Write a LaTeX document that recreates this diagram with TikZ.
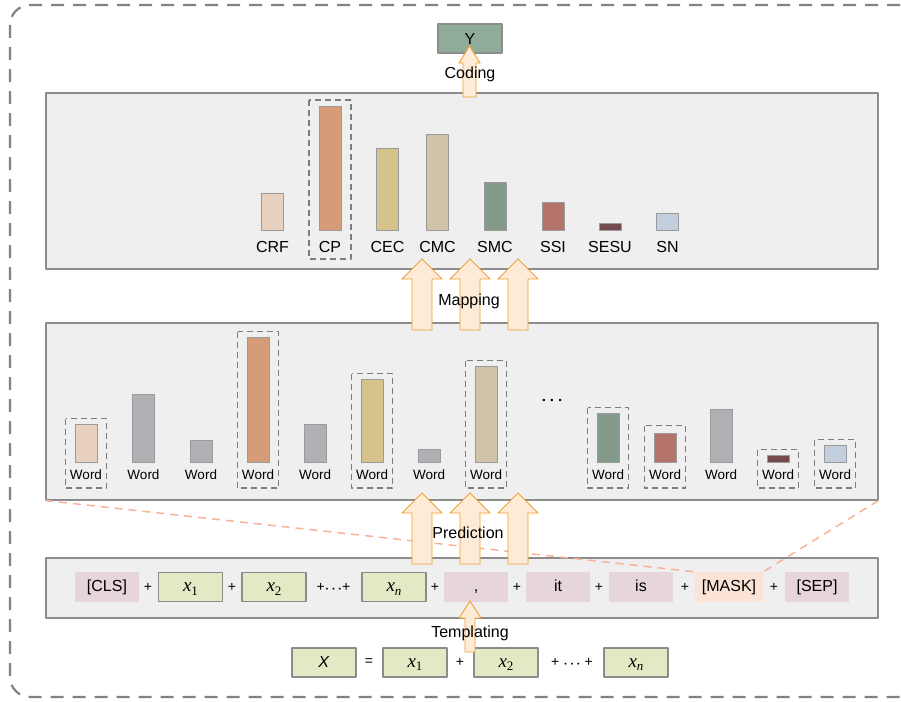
\documentclass[tikz,border=0pt]{standalone}
\usepackage{fontspec}
\setmainfont{Liberation Sans}
\newfontfamily\tms{Liberation Serif}
\usetikzlibrary{arrows.meta}
\definecolor{panelfill}{HTML}{EFEFEF}
\definecolor{panelline}{HTML}{8C8C8C}
\definecolor{outerline}{HTML}{828282}
\definecolor{pickline}{HTML}{7D7D7D}
\definecolor{barline}{HTML}{9A9A9A}
\definecolor{arrfill}{HTML}{FDEBD7}
\definecolor{arrline}{HTML}{F0A035}
\definecolor{linkline}{HTML}{F5B398}
\definecolor{ycol}{HTML}{8FAC98}
\definecolor{tokgreen}{HTML}{E2E9C5}
\definecolor{tokpink}{HTML}{E6D5D9}
\definecolor{tokmask}{HTML}{FBE3D5}
\definecolor{crf}{HTML}{E9D1BF}
\definecolor{cp}{HTML}{D69B79}
\definecolor{cec}{HTML}{D5C38B}
\definecolor{cmc}{HTML}{CFC3A8}
\definecolor{smc}{HTML}{849B8B}
\definecolor{ssi}{HTML}{B4746A}
\definecolor{sesu}{HTML}{744B4E}
\definecolor{sn}{HTML}{C3CFDD}
\definecolor{idle}{HTML}{B1B1B5}
\tikzset{
  every picture/.style={line join=round, >=Stealth},
  panel/.style={draw=panelline, fill=panelfill, line width=1.5pt, inner sep=0pt, anchor=north west},
  outer/.style={draw=outerline, line width=2.2pt, dash pattern=on 13pt off 9pt, rounded corners=20pt},
  bar/.style={draw=barline, line width=0.8pt},
  pick/.style={draw=pickline, line width=1.5pt, dash pattern=on 6pt off 4pt},
  link/.style={draw=linkline, line width=1.5pt, dash pattern=on 8pt off 6pt},
  lab/.style={font=\fontsize{16}{18}\selectfont, inner sep=0pt, anchor=base},
  wordlab/.style={font=\fontsize{13.5}{15}\selectfont, inner sep=0pt, anchor=base},
  tok/.style={minimum width=64pt, minimum height=30pt, inner sep=0pt, text height=12pt, text depth=3pt, font=\fontsize{16}{18}\selectfont},
  xtok/.style={tok, fill=tokgreen, draw=panelline, line width=1.5pt, minimum height=29pt},
  ptok/.style={tok, fill=tokpink},
  plus/.style={font=\fontsize{14}{16}\selectfont, inner sep=0pt},
  fat/.style={fill=arrfill, draw=arrline, line width=0.9pt, line join=miter},
}
% centre x, bottom y, tip y, shaft half width, head half width, head base y
\newcommand{\fatarrow}[6]{%
  \draw[fat] (#1-#4,#2) -- (#1-#4,#6) -- (#1-#5,#6) -- (#1,#3) -- (#1+#5,#6) -- (#1+#4,#6) -- (#1+#4,#2) -- cycle;}
\newcommand{\tokx}[1]{{\tms\fontsize{19}{20}\selectfont\itshape x}\raisebox{-0.45ex}{\tms\fontsize{13}{13}\selectfont #1}}
\newcommand{\plusdots}[1]{+\hspace{#1}{\fontsize{7}{7}\selectfont •\hspace{4pt}•\hspace{4pt}•}\hspace{#1}+}

\begin{document}
\begin{tikzpicture}[x=1pt,y=-1pt]
\useasboundingbox (0,0) rectangle (901,701);
\begin{scope}
\clip (0,0) rectangle (901,701);
\draw[outer] (10,5) rectangle (919,697);
\end{scope}

% panels
\node[panel, minimum width=832pt, minimum height=176pt] (mapbox) at (45,92) {};
\node[panel, minimum width=832pt, minimum height=177pt] (predbox) at (45,322) {};
\node[panel, minimum width=832pt, minimum height=60pt] (tplbox) at (45,557) {};

% output
\node[draw=panelline, fill=ycol, line width=1.5pt, minimum width=64pt, minimum height=29pt, font=\fontsize{16}{18}\selectfont] (y) at (470,38.5) {Y};

% label distribution
\foreach \x/\t/\c/\n in {272.5/193/crf/CRF, 330/106/cp/CP, 387.5/148/cec/CEC, 437.5/134/cmc/CMC,
  495/182/smc/SMC, 553/202/ssi/SSI, 610/223/sesu/SESU, 667.5/213/sn/SN}{
  \draw[bar, fill=\c] (\x-11,\t) rectangle (\x+11,230);
  \node[lab] (l\n) at (\x,252) {\n};
}
\draw[pick] (309,100) rectangle (351,259);

% word distribution
\foreach \i/\x/\t/\c in {1/86/424/crf, 2/143.5/394/idle, 3/201/440/idle, 4/258/337/cp, 5/315/424/idle,
  6/372/379/cec, 7/429/449/idle, 8/486/366/cmc, 9/608/413/smc, 10/665/433/ssi, 11/721/409/idle,
  12/778/455/sesu, 13/835/445/sn}{
  \draw[bar, fill=\c] (\x-11,\t) rectangle (\x+11,462);
  \node[wordlab] (w\i) at (\x,479) {Word};
}
\foreach \x/\t in {86/424, 258/337, 372/379, 486/366, 608/413, 665/431, 778/455, 835/445}
  \draw[pick] (\x-20.5,\t-5.5) rectangle (\x+20.5,488);
\node (more) at (552,401) {\fontsize{9}{9}\selectfont •\hspace{5pt}•\hspace{5pt}•};

% template
\node[ptok] (cls) at (107,587) {[CLS]};
\node[plus] (p1) at (148,587) {+};
\node[xtok] (x1) at (190.5,587) {\tokx{1}};
\node[plus] (p2) at (232,587) {+};
\node[xtok] (x2) at (274,587) {\tokx{2}};
\node[plus] (p3) at (333.5,587) {\plusdots{1pt}};
\node[xtok] (xn) at (394,587) {\tokx{\itshape n}};
\node[plus] (p4) at (435,587) {+};
\node[ptok] (comma) at (476,587) {,};
\node[plus] (p5) at (517,587) {+};
\node[ptok] (it) at (558,587) {it};
\node[plus] (p6) at (599,587) {+};
\node[ptok] (is) at (641,587) {is};
\node[plus] (p7) at (685,587) {+};
\node[tok, fill=tokmask, minimum width=68pt] (mask) at (729,587) {[MASK]};
\node[plus] (p8) at (774,587) {+};
\node[ptok] (sep) at (817,587) {[SEP]};

% input
\node[xtok] (bx) at (324,662.5) {\textit{X}};
\node[plus] (beq) at (369,662.5) {=};
\node[xtok] (bx1) at (415,662.5) {\tokx{1}};
\node[plus] (bp1) at (460,662.5) {+};
\node[xtok] (bx2) at (506,662.5) {\tokx{2}};
\node[plus] (bp2) at (572,662.5) {\plusdots{5pt}};
\node[xtok] (bxn) at (636,662.5) {\tokx{\itshape n}};

% links to the mask
\draw[link] (predbox.south west) -- (mask.north west);
\draw[link] (predbox.south east) -- (mask.north east);

% arrows
\fatarrow{469.5}{97}{46}{6.5}{10.5}{63}
\foreach \x in {422,470,518}{
  \fatarrow{\x}{330}{259}{10}{20}{279}
  \fatarrow{\x}{564}{493}{10}{20}{513}
}
\fatarrow{470}{652}{601}{5}{11}{618}

\node[lab] (coding) at (470,78) {Coding};
\node[lab] (mapping) at (469,305) {Mapping};
\node[lab] (prediction) at (468,538) {Prediction};
\node[lab] (templating) at (470,637) {Templating};
\end{tikzpicture}
\end{document}
